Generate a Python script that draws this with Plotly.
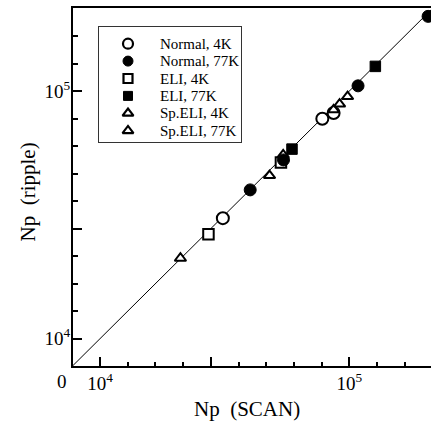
import plotly.graph_objects as go

# ---------------- data ----------------
normal_4k_x = [31100, 77950, 86500]
normal_4k_y = [30670, 77270, 81500]
normal_77k_x = [40040, 54460, 108400, 207000]
normal_77k_y = [39900, 52730, 105000, 200300]
eli_4k_x = [27230, 53180]
eli_4k_y = [26430, 51450]
eli_77k_x = [58900, 127200]
eli_77k_y = [58300, 125800]
speli_4k_x = [21020, 47860, 54300]
speli_4k_y = [21130, 45600, 55200]
speli_77k_x = [86500, 91400, 98400]
speli_77k_y = [84000, 88600, 95000]
diag = [7.0e3, 3.0e5]          # y = x reference line

legend_labels = ["Normal, 4K", "Normal, 77K", "ELI, 4K", "ELI, 77K",
                 "Sp.ELI, 4K", "Sp.ELI, 77K"]
labelled_tick_exp = [4, 5]
labelled_tick_text = ["10<sup>4</sup>", "10<sup>5</sup>"]
long_unlabelled_exp = [4 + 4 / 9]
minor_tick_steps = [k for k in range(0, 12) if k not in (0, 4, 9)]

# ---------------- styles ----------------
FONT = "Liberation Serif, Times New Roman, serif"
W, H = 431, 425
ML, MT, MR, MB = 73, 8, 0, 59
PH = H - MT - MB
PW = W - ML - MR

styles = {
    "Normal, 4K": dict(symbol="circle", color="white", line=dict(color="black", width=2)),
    "Normal, 77K": dict(symbol="circle", color="black", line=dict(color="black", width=1)),
    "ELI, 4K": dict(symbol="square", color="white", line=dict(color="black", width=2)),
    "ELI, 77K": dict(symbol="square", color="black", line=dict(color="black", width=1)),
    "Sp.ELI, 4K": dict(symbol="triangle-up", color="white", line=dict(color="black", width=2)),
    "Sp.ELI, 77K": dict(symbol="triangle-up", color="white", line=dict(color="black", width=2)),
}
data_size = {"circle": 12, "square": 10.5, "triangle-up": 10}
leg_size = {"circle": 10, "square": 9, "triangle-up": 9.5}

series = {
    "Normal, 4K": (normal_4k_x, normal_4k_y),
    "ELI, 4K": (eli_4k_x, eli_4k_y),
    "Sp.ELI, 4K": (speli_4k_x, speli_4k_y),
    "Sp.ELI, 77K": (speli_77k_x, speli_77k_y),
    "Normal, 77K": (normal_77k_x, normal_77k_y),
    "ELI, 77K": (eli_77k_x, eli_77k_y),
}

fig = go.Figure()

fig.add_trace(go.Scatter(x=diag, y=diag, mode="lines",
                         line=dict(color="black", width=1), showlegend=False,
                         hoverinfo="skip"))

for name, (xs, ys) in series.items():
    st = styles[name]
    fig.add_trace(go.Scatter(
        x=xs, y=ys, mode="markers", name=name, showlegend=False,
        marker=dict(symbol=st["symbol"], size=data_size[st["symbol"]],
                    color=st["color"], line=st["line"])))

# ---------------- hand-built legend box on its own small axes ----------------
LEG_MARKER_X = 29
LEG_TEXT_X = 59
for i, name in enumerate(legend_labels):
    st = styles[name]
    fig.add_trace(go.Scatter(
        x=[LEG_MARKER_X], y=[i], xaxis="x2", yaxis="y2", mode="markers",
        showlegend=False, hoverinfo="skip",
        marker=dict(symbol=st["symbol"], size=leg_size[st["symbol"]],
                    color=st["color"],
                    line=dict(color="black", width=2.2 if st["color"] == "white" else 1))))
    fig.add_annotation(x=LEG_TEXT_X, y=i, xref="x2", yref="y2", text=name,
                       showarrow=False, xanchor="left", yanchor="middle",
                       font=dict(family=FONT, size=15, color="black"))

xr = [3.8917, 5.3277]
yr = [3.8897, 5.3355]

minor_vals = [10 ** (4 + k / 9) for k in minor_tick_steps]
tick_common = dict(
    showgrid=False, zeroline=False,
    showline=True, linewidth=2, linecolor="black",
    ticks="inside", ticklen=9, tickwidth=2, tickcolor="black",
    tickmode="array", tickvals=[10 ** e for e in labelled_tick_exp],
    ticktext=labelled_tick_text, tickfont=dict(family=FONT, size=19),
    minor=dict(tickmode="array", tickvals=minor_vals,
               ticks="inside", ticklen=4.5, tickwidth=1.5, tickcolor="black",
               showgrid=False),
)
long_tick_axis = dict(
    type="log", showline=False, showgrid=False, zeroline=False,
    ticks="inside", ticklen=9, tickwidth=2, tickcolor="black",
    tickmode="array", tickvals=[10 ** e for e in long_unlabelled_exp],
    showticklabels=False,
)

fig.update_layout(
    width=W, height=H,
    margin=dict(l=ML, r=MR, t=MT, b=MB),
    paper_bgcolor="white", plot_bgcolor="white",
    showlegend=False,
    font=dict(family=FONT, color="black"),
    xaxis=dict(type="log", range=xr, ticklabelstandoff=-1, **tick_common),
    yaxis=dict(type="log", range=yr, ticklabelstandoff=-3, **tick_common),
    xaxis3=dict(
        type="log", range=xr, overlaying="x", side="top", anchor="y",
        showline=True, linewidth=2, linecolor="black", ticks="",
        showticklabels=False, showgrid=False, zeroline=False,
    ),
    xaxis4=dict(range=xr, overlaying="x", side="bottom", anchor="y", **long_tick_axis),
    yaxis3=dict(range=yr, overlaying="y", side="left", anchor="x", **long_tick_axis),
    xaxis2=dict(
        domain=[(99 - ML) / PW, (241 - ML) / PW],
        anchor="y2", range=[0, 142], showline=True, mirror=True,
        linewidth=1, linecolor="#333", ticks="", showticklabels=False,
        showgrid=False, zeroline=False, fixedrange=True,
    ),
    yaxis2=dict(
        domain=[(H - MB - 142) / PH, (H - MB - 27) / PH],
        anchor="x2", range=[5.65, -0.96], showline=True, mirror=True,
        linewidth=1, linecolor="#333", ticks="", showticklabels=False,
        showgrid=False, zeroline=False, fixedrange=True,
    ),
)

# invisible traces so the overlay axes (top border, long ticks) are drawn
fig.add_trace(go.Scatter(x=diag, y=diag, xaxis="x3", mode="lines",
                         line=dict(width=0), showlegend=False, hoverinfo="skip"))
fig.add_trace(go.Scatter(x=diag, y=diag, xaxis="x4", yaxis="y3", mode="lines",
                         line=dict(width=0), showlegend=False, hoverinfo="skip"))

fig.add_annotation(text="0", xref="paper", yref="paper", x=0, y=(H - MB - 381) / PH,
                   xshift=-11, xanchor="center", yanchor="middle", showarrow=False,
                   font=dict(family=FONT, size=19))
fig.add_annotation(text="Np  (SCAN)", xref="paper", yref="paper",
                   x=(247 - ML) / PW, y=(H - MB - 409) / PH,
                   xanchor="center", yanchor="middle", showarrow=False,
                   font=dict(family=FONT, size=21))
fig.add_annotation(text="Np  (ripple)", xref="paper", yref="paper",
                   x=(27 - ML) / PW, y=(H - MB - 192.5) / PH, textangle=-90,
                   xanchor="center", yanchor="middle", showarrow=False,
                   font=dict(family=FONT, size=21))

fig.write_html("out.html")
